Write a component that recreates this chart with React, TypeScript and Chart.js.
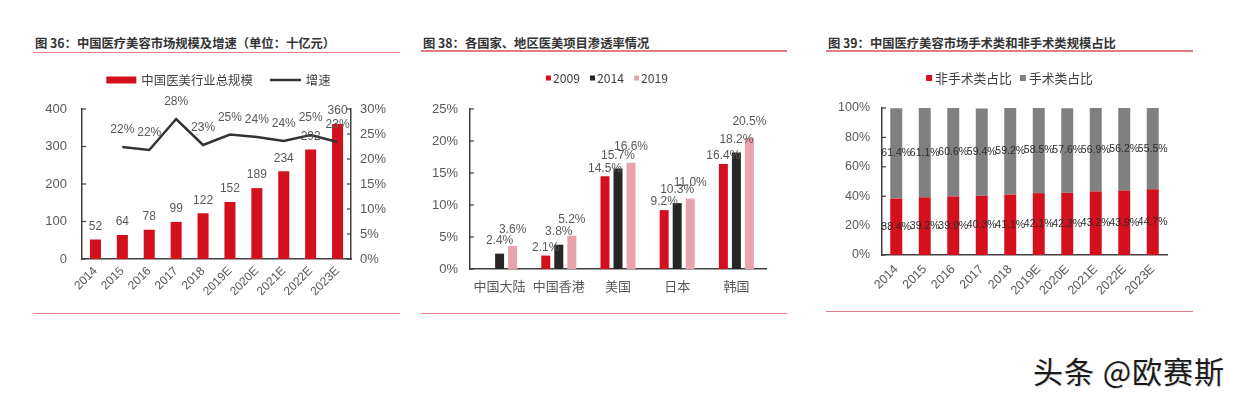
import React, { useEffect, useRef } from "react";
import { Chart, registerables } from "chart.js";
Chart.register(...registerables);

const FONT = '"Liberation Sans", "Noto Sans CJK SC", Arial, sans-serif';
const CJK = '"Noto Sans CJK SC", "Liberation Sans", sans-serif';
const TICK_COLOR = "#595959";
const LEGEND_COLOR = "#404040";
const AXIS_COLOR = "#404040";
const RED = "#d40f1e";
const DARK = "#262626";
const PINK = "#e9a3ac";
const GRAY = "#808080";
const RULE = "#e57c84";

// ---- 图36 ----
const years = ["2014", "2015", "2016", "2017", "2018", "2019E", "2020E", "2021E", "2022E", "2023E"];
const marketSize = [52, 64, 78, 99, 122, 152, 189, 234, 292, 360];
const growthRate = [null, 22.4, 21.8, 28.0, 22.8, 24.9, 24.4, 23.6, 24.8, 23.4];
const sizeTicks = [0, 100, 200, 300, 400];
const growthTicks = [0, 5, 10, 15, 20, 25, 30];

// ---- 图38 ----
const regions = ["中国大陆", "中国香港", "美国", "日本", "韩国"];
const rate2009 = [null, 2.1, 14.5, 9.2, 16.4];
const rate2014 = [2.4, 3.8, 15.7, 10.3, 18.2];
const rate2019 = [3.6, 5.2, 16.6, 11.0, 20.5];
const rateTicks = [0, 5, 10, 15, 20, 25];

// ---- 图39 ----
const shareYears = ["2014", "2015", "2016", "2017", "2018", "2019E", "2020E", "2021E", "2022E", "2023E"];
const nonSurgicalShare = [38.4, 39.2, 39.9, 40.3, 41.1, 42.1, 42.3, 43.2, 43.9, 44.7];
const surgicalShare = [61.4, 61.1, 60.6, 59.4, 59.2, 58.5, 57.6, 56.9, 56.2, 55.5];
const shareTicks = [0, 20, 40, 60, 80, 100];

type LegendItem = { text: string; color: string; symbol: "rect" | "line"; w: number; h: number };

function drawLegend(chart: any, items: LegendItem[], y: number, fontSize: number, symGap: number, itemGap: number, dx = 0) {
  const ctx = chart.ctx as CanvasRenderingContext2D;
  ctx.save();
  ctx.font = `${fontSize}px ${CJK}`;
  const widths = items.map((it) => it.w + symGap + ctx.measureText(it.text).width);
  const total = widths.reduce((a, b) => a + b, 0) + itemGap * (items.length - 1);
  let x = (chart.width - total) / 2 + dx;
  items.forEach((it, i) => {
    if (it.symbol === "line") {
      ctx.strokeStyle = it.color;
      ctx.lineWidth = it.h;
      ctx.beginPath();
      ctx.moveTo(x, y);
      ctx.lineTo(x + it.w, y);
      ctx.stroke();
    } else {
      ctx.fillStyle = it.color;
      ctx.fillRect(x, y - it.h / 2, it.w, it.h);
    }
    ctx.fillStyle = LEGEND_COLOR;
    ctx.textAlign = "left";
    ctx.textBaseline = "middle";
    ctx.fillText(it.text, x + it.w + symGap, y + 0.5);
    x += widths[i] + itemGap;
  });
  ctx.restore();
}

function drawInTicks(chart: any, scaleId: string, side: "left" | "right", len = 4) {
  const s = chart.scales[scaleId];
  const ctx = chart.ctx as CanvasRenderingContext2D;
  ctx.save();
  ctx.strokeStyle = AXIS_COLOR;
  ctx.lineWidth = 1.2;
  s.ticks.forEach((t: any) => {
    const y = s.getPixelForValue(t.value);
    const x0 = side === "left" ? s.right : s.left;
    ctx.beginPath();
    ctx.moveTo(x0, y);
    ctx.lineTo(side === "left" ? x0 + len : x0 - len, y);
    ctx.stroke();
  });
  ctx.restore();
}

const base = {
  responsive: false,
  maintainAspectRatio: false,
  animation: false as const,
  events: [] as any[],
  plugins: { legend: { display: false }, tooltip: { enabled: false }, title: { display: false } },
};

function yAxis(ticksArr: number[], pos: "left" | "right", width: number, pad: number, size: number, pct: boolean) {
  return {
    position: pos,
    min: ticksArr[0],
    max: ticksArr[ticksArr.length - 1],
    afterBuildTicks: (s: any) => {
      s.ticks = ticksArr.map((v) => ({ value: v }));
    },
    afterFit: (s: any) => {
      s.width = width;
    },
    grid: { display: false, drawTicks: false },
    border: { display: true, color: AXIS_COLOR, width: 1.5 },
    ticks: {
      color: TICK_COLOR,
      padding: pad,
      font: { size, family: FONT },
      callback: (v: any) => (pct ? `${v}%` : `${v}`),
    },
  };
}

function xAxis(height: number, pad: number, size: number, rotate: boolean) {
  return {
    afterFit: (s: any) => {
      s.height = height;
    },
    grid: { display: false, drawTicks: false },
    border: { display: true, color: AXIS_COLOR, width: 1.5 },
    ticks: {
      color: TICK_COLOR,
      padding: pad,
      autoSkip: false,
      minRotation: rotate ? 45 : 0,
      maxRotation: rotate ? 45 : 0,
      font: { size, family: rotate ? FONT : CJK },
    },
  };
}

function makeChart1(canvas: HTMLCanvasElement) {
  const plugin = {
    id: "c1decor",
    afterDatasetsDraw(chart: any) {
      const ctx = chart.ctx as CanvasRenderingContext2D;
      ctx.save();
      ctx.font = `12px ${FONT}`;
      ctx.fillStyle = TICK_COLOR;
      ctx.textAlign = "center";
      ctx.textBaseline = "middle";
      chart.getDatasetMeta(0).data.forEach((el: any, i: number) => {
        ctx.fillText(String(marketSize[i]), el.x, el.y - 13);
      });
      chart.getDatasetMeta(1).data.forEach((el: any, i: number) => {
        const v = growthRate[i];
        if (v == null) return;
        ctx.fillText(`${Math.round(v)}%`, el.x, el.y - 17);
      });
      ctx.restore();
      drawInTicks(chart, "y", "left");
      drawInTicks(chart, "y1", "right");
      drawLegend(
        chart,
        [
          { text: "中国医美行业总规模", color: RED, symbol: "rect", w: 30, h: 7 },
          { text: "增速", color: "#333333", symbol: "line", w: 31, h: 2.5 },
        ],
        20,
        12.4,
        5,
        17,
        2
      );
    },
  };
  return new Chart(canvas, {
    data: {
      labels: years,
      datasets: [
        {
          type: "bar",
          label: "中国医美行业总规模",
          data: marketSize,
          yAxisID: "y",
          backgroundColor: RED,
          barPercentage: 0.41,
          categoryPercentage: 1,
          order: 2,
        } as any,
        {
          type: "line",
          label: "增速",
          data: growthRate,
          yAxisID: "y1",
          borderColor: "#333333",
          borderWidth: 2.5,
          pointRadius: 0,
          tension: 0,
          order: 1,
        } as any,
      ],
    },
    options: {
      ...base,
      layout: { padding: { top: 49, left: 0, right: 0, bottom: 0 } },
      scales: {
        x: xAxis(46, 5, 12, true),
        y: yAxis(sizeTicks, "left", 49, 15, 13, false),
        y1: yAxis(growthTicks, "right", 49, 9, 13, true),
      },
    } as any,
    plugins: [plugin],
  });
}

function makeChart2(canvas: HTMLCanvasElement) {
  const offsets = [8, 13, 16];
  const plugin = {
    id: "c2decor",
    afterDatasetsDraw(chart: any) {
      const ctx = chart.ctx as CanvasRenderingContext2D;
      ctx.save();
      ctx.font = `12px ${FONT}`;
      ctx.fillStyle = TICK_COLOR;
      ctx.textAlign = "center";
      ctx.textBaseline = "middle";
      chart.data.datasets.forEach((ds: any, di: number) => {
        chart.getDatasetMeta(di).data.forEach((el: any, i: number) => {
          const v = ds.data[i];
          if (v == null) return;
          ctx.fillText(`${v.toFixed(1)}%`, el.x, el.y - offsets[di]);
        });
      });
      ctx.restore();
      drawInTicks(chart, "y", "left");
      drawLegend(
        chart,
        [
          { text: "2009", color: RED, symbol: "rect", w: 5, h: 5 },
          { text: "2014", color: DARK, symbol: "rect", w: 5, h: 5 },
          { text: "2019", color: PINK, symbol: "rect", w: 5, h: 5 },
        ],
        18,
        12.2,
        2,
        10,
        3
      );
    },
  };
  const common = { barPercentage: 0.69, categoryPercentage: 0.66 };
  return new Chart(canvas, {
    type: "bar",
    data: {
      labels: regions,
      datasets: [
        { label: "2009", data: rate2009, backgroundColor: RED, ...common },
        { label: "2014", data: rate2014, backgroundColor: DARK, ...common },
        { label: "2019", data: rate2019, backgroundColor: PINK, ...common },
      ] as any,
    },
    options: {
      ...base,
      layout: { padding: { top: 49, left: 0, right: 21, bottom: 0 } },
      scales: {
        x: xAxis(36, 9, 13, false),
        y: yAxis(rateTicks, "left", 49, 12, 13, true),
      },
    } as any,
    plugins: [plugin],
  });
}

function makeChart3(canvas: HTMLCanvasElement) {
  const plugin = {
    id: "c3decor",
    afterDatasetsDraw(chart: any) {
      const ctx = chart.ctx as CanvasRenderingContext2D;
      ctx.save();
      ctx.font = `10.5px ${FONT}`;
      ctx.fillStyle = "#2b2b2b";
      ctx.textAlign = "center";
      ctx.textBaseline = "middle";
      chart.data.datasets.forEach((ds: any, di: number) => {
        chart.getDatasetMeta(di).data.forEach((el: any, i: number) => {
          const v = ds.data[i];
          const top = Math.max(el.y, chart.chartArea.top);
          ctx.fillText(`${v.toFixed(1)}%`, el.x, (top + el.base) / 2);
        });
      });
      ctx.restore();
      drawInTicks(chart, "y", "left");
      drawLegend(
        chart,
        [
          { text: "非手术类占比", color: RED, symbol: "rect", w: 6, h: 6 },
          { text: "手术类占比", color: GRAY, symbol: "rect", w: 6, h: 6 },
        ],
        18,
        12.8,
        3,
        8,
        0
      );
    },
  };
  const common = { barPercentage: 0.42, categoryPercentage: 1 };
  return new Chart(canvas, {
    type: "bar",
    data: {
      labels: shareYears,
      datasets: [
        { label: "非手术类占比", data: nonSurgicalShare, backgroundColor: RED, ...common },
        { label: "手术类占比", data: surgicalShare, backgroundColor: GRAY, ...common },
      ] as any,
    },
    options: {
      ...base,
      layout: { padding: { top: 48, left: 0, right: 26, bottom: 0 } },
      scales: {
        x: { ...xAxis(50, 7, 12.5, true), stacked: true },
        y: { ...yAxis(shareTicks, "left", 56, 12, 12.5, true), stacked: true },
      },
    } as any,
    plugins: [plugin],
  });
}

const titleStyle = (left: number): React.CSSProperties => ({
  position: "absolute",
  left,
  top: 35,
  fontFamily: CJK,
  fontWeight: 700,
  fontSize: 12.3,
  lineHeight: "16px",
  color: "#333333",
  whiteSpace: "nowrap",
});

const rule = (left: number, top: number, width: number): React.CSSProperties => ({
  position: "absolute",
  left,
  top,
  width,
  height: 1.5,
  background: RULE,
});

const canvasStyle = (left: number, width: number): React.CSSProperties => ({
  position: "absolute",
  left,
  top: 60,
  width,
  height: 245,
});

export default function App() {
  const c1 = useRef<HTMLCanvasElement>(null);
  const c2 = useRef<HTMLCanvasElement>(null);
  const c3 = useRef<HTMLCanvasElement>(null);

  useEffect(() => {
    const charts = [makeChart1(c1.current!), makeChart2(c2.current!), makeChart3(c3.current!)];
    return () => charts.forEach((c) => c.destroy());
  }, []);

  return (
    <div style={{ position: "absolute", left: 0, top: 0, width: 1240, height: 398, background: "#ffffff", overflow: "hidden" }}>
      <div style={titleStyle(35)}>图 36：中国医疗美容市场规模及增速（单位：十亿元）</div>
      <div style={rule(33, 51.5, 367)} />
      <div style={titleStyle(423)}>图 38：各国家、地区医美项目渗透率情况</div>
      <div style={rule(421, 50, 366)} />
      <div style={titleStyle(828)}>图 39：中国医疗美容市场手术类和非手术类规模占比</div>
      <div style={rule(826, 50, 367)} />

      <canvas ref={c1} width={367} height={245} style={canvasStyle(33, 367)} />
      <canvas ref={c2} width={366} height={245} style={canvasStyle(421, 366)} />
      <canvas ref={c3} width={367} height={245} style={canvasStyle(826, 367)} />

      <div style={rule(33, 312.5, 367)} />
      <div style={rule(421, 312.5, 366)} />
      <div style={rule(826, 310.5, 367)} />

      <div
        style={{
          position: "absolute",
          left: 1033,
          top: 354,
          fontFamily: CJK,
          fontSize: 30,
          letterSpacing: 1,
          lineHeight: "32px",
          color: "#1a1a1a",
          whiteSpace: "nowrap",
          textShadow: "1px 1px 1px rgba(0,0,0,0.15)",
        }}
      >
        头条 @欧赛斯
      </div>
    </div>
  );
}
